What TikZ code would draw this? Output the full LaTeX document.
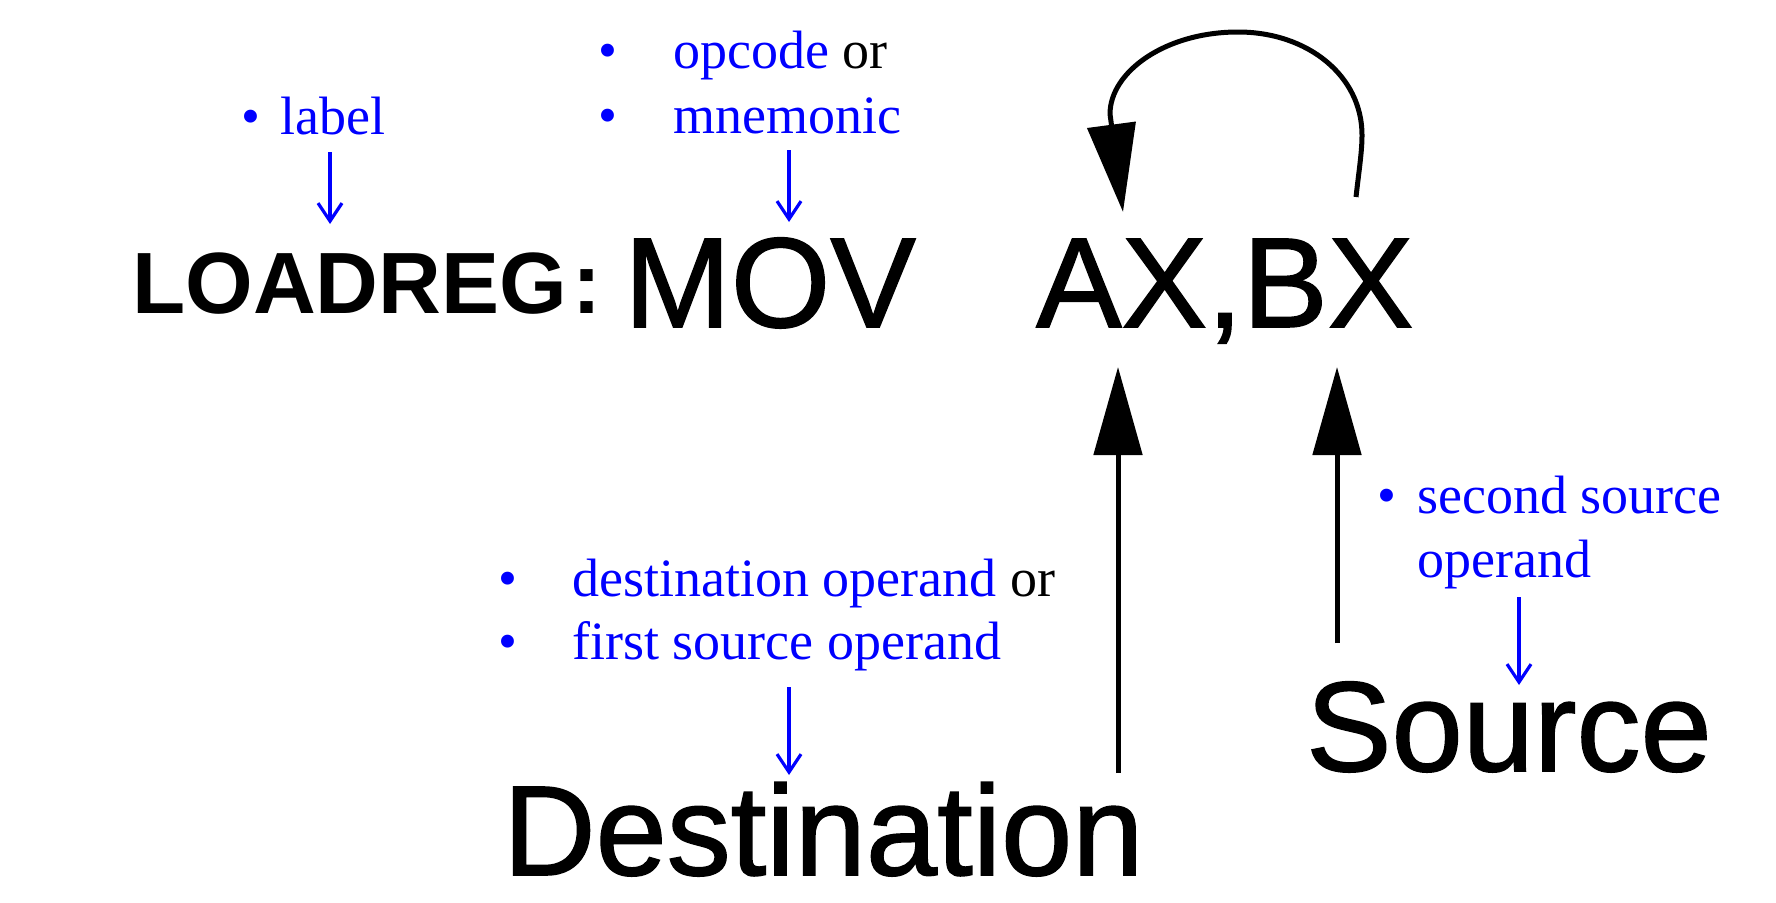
\documentclass[tikz,border=0pt]{standalone}
\usepackage{fontspec}
\setmainfont{Liberation Serif}
\newfontfamily\arialfont{Liberation Sans}
\newfontfamily\arialheavy{Liberation Sans}[FakeBold=1.2]
\usetikzlibrary{arrows.meta}
\definecolor{pblue}{RGB}{0,0,255}
\tikzset{
  btext/.style={font=\fontsize{54}{60}\selectfont, text=pblue, inner sep=0pt, anchor=base west},
  bbullet/.style={font=\fontsize{54}{60}\selectfont, text=pblue, inner sep=0pt, anchor=base},
  bigtext/.style={font=\arialheavy\fontsize{128}{150}\selectfont, inner sep=0pt, anchor=base west},
  bluearrow/.style={draw=pblue, line width=3.2pt, -{Straight Barb[length=18pt,width=24pt]}},
  blackarrow/.style={draw=black, line width=5pt, -{Triangle[length=88pt,width=48pt]}},
}
\begin{document}
\begin{tikzpicture}[x=1pt, y=-1pt]
\useasboundingbox (0,0) rectangle (1776,902);
% black words
\node[anchor=base west, inner sep=0pt, font=\arialfont\bfseries\fontsize{87}{100}\selectfont] (loadreg) at (132,313) {LOADREG\kern5pt:};
\node[bigtext] (mov) at (624,327) {MOV};
\node[bigtext] (axbx) at (1036,327) {AX,BX};
\node[bigtext] (dest) at (503,875) {Destination};
\node[bigtext] (src) at (1306,771) {Source};
% blue annotations
\node[bbullet] (b1) at (251,134) {•};
\node[btext] (lab) at (280,134) {label};
\node[bbullet] (b2) at (608,68) {•};
\node[btext] (opc) at (673,68) {opcode \textcolor{black}{or}};
\node[bbullet] (b3) at (608,133) {•};
\node[btext] (mne) at (673,133) {mnemonic};
\node[bbullet] (b4) at (508,596) {•};
\node[btext] (dop) at (572,596) {destination operand \textcolor{black}{or}};
\node[bbullet] (b5) at (508,659) {•};
\node[btext] (fso) at (572,659) {first source operand};
\node[bbullet] (b6) at (1387,513) {•};
\node[btext] (sso) at (1417,513) {second source};
\node[btext] (sop) at (1417,577) {operand};
% blue arrow coordinates
\coordinate (la1) at (330,152); \coordinate (la2) at (330,224);
\coordinate (ma1) at (789,150); \coordinate (ma2) at (789,222);
\coordinate (da1) at (789,687); \coordinate (da2) at (789,775);
\coordinate (sa1) at (1519,597); \coordinate (sa2) at (1519,685);
\draw[bluearrow] (la1) -- (la2);
\draw[bluearrow] (ma1) -- (ma2);
\draw[bluearrow] (da1) -- (da2);
\draw[bluearrow] (sa1) -- (sa2);
% black arrows
\coordinate (dk1) at (1118,773); \coordinate (dk2) at (1118,367);
\coordinate (sk1) at (1337,643); \coordinate (sk2) at (1337,367);
\draw[blackarrow] (dk1) -- (dk2);
\draw[blackarrow] (sk1) -- (sk2);
\coordinate (cs) at (1356,197); \coordinate (ct) at (1123,212);
\draw[blackarrow] (cs) .. controls (1359,170) and (1362,152) .. (1362,135)
  .. controls (1362,76) and (1308,32) .. (1238,32)
  .. controls (1165,32) and (1110,72) .. (1110,114) -- (ct);
\end{tikzpicture}
\end{document}
